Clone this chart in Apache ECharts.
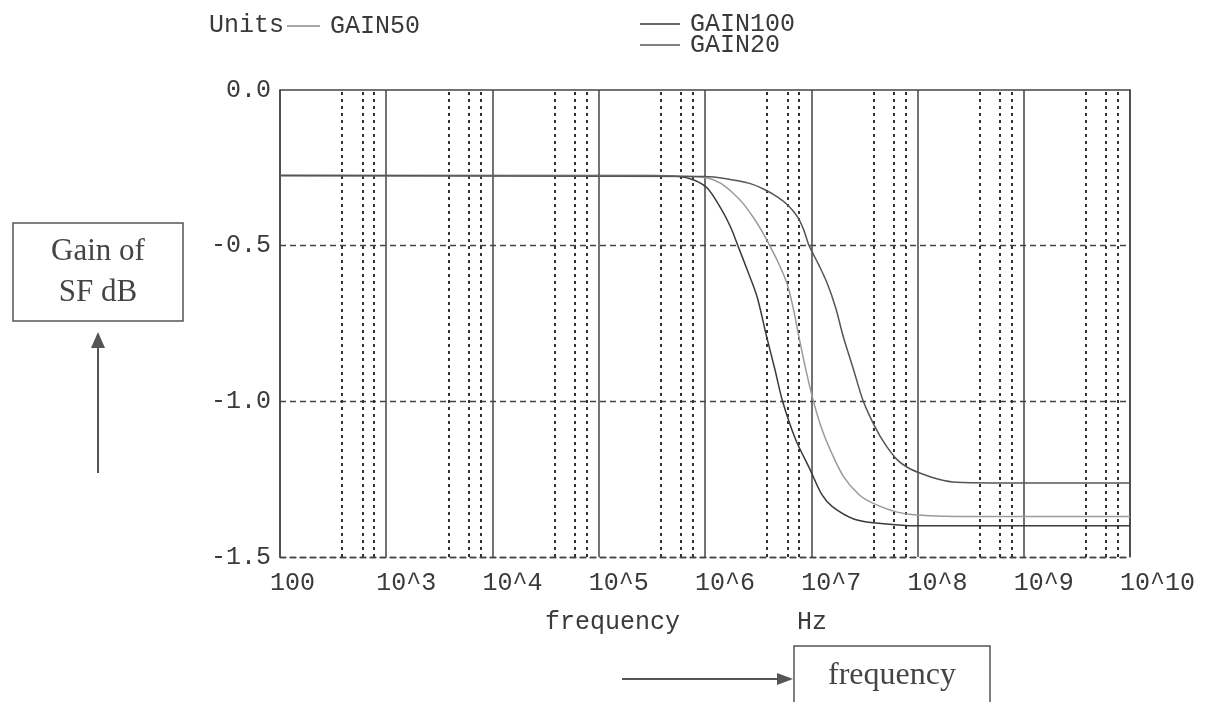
<!DOCTYPE html>
<html><head><meta charset="utf-8">
<script src="https://cdn.jsdelivr.net/npm/echarts@6/dist/echarts.min.js"></script>
<style>html,body{margin:0;padding:0;background:#fff}#c{width:1217px;height:702px}</style>
</head><body><div id="c"></div>
<script>
// ---- data (frequency in Hz, gain in dB) ----
const decadeLines = [1e2, 1e3, 1e4, 1e5, 1e6, 1e7, 1e8, 1e9];
const minorMultipliers = [3.85, 5.95, 7.7];

const gain100Freq = [1e2, 3.16e5, 5.75e5, 7.94e5, 1.05e6, 1.41e6, 1.74e6, 2.04e6, 2.51e6, 3.09e6, 3.8e6, 4.57e6, 5.37e6, 7.08e6, 9.77e6, 1.26e7, 1.58e7, 2.51e7, 3.8e7, 1e8, 1e10];
const gain100Val  = [-0.275, -0.275, -0.278, -0.29, -0.315, -0.38, -0.44, -0.5, -0.58, -0.664, -0.792, -0.9, -1.0, -1.12, -1.22, -1.3, -1.338, -1.378, -1.39, -1.40, -1.40];

const gain50Freq = [1e2, 6.3e5, 1.05e6, 1.41e6, 1.82e6, 2.29e6, 2.82e6, 3.39e6, 4.07e6, 4.9e6, 5.89e6, 6.76e6, 7.76e6, 8.91e6, 1.05e7, 1.26e7, 1.51e7, 2e7, 2.82e7, 3.8e7, 6.31e7, 1e8, 3.16e8, 1e10];
const gain50Val  = [-0.275, -0.277, -0.283, -0.30, -0.33, -0.365, -0.407, -0.45, -0.5, -0.555, -0.62, -0.7, -0.803, -0.9, -1.0, -1.09, -1.156, -1.24, -1.3, -1.327, -1.355, -1.365, -1.37, -1.37];

const gain20Freq = [1e2, 1e6, 1.58e6, 2.63e6, 3.55e6, 4.79e6, 6.03e6, 7.41e6, 8.51e6, 9.55e6, 1.17e7, 1.41e7, 1.7e7, 2e7, 2.51e7, 3.09e7, 3.98e7, 5.01e7, 6.46e7, 8.32e7, 1.05e8, 1.58e8, 2.34e8, 5.01e8, 1e10];
const gain20Val  = [-0.275, -0.278, -0.285, -0.30, -0.318, -0.343, -0.37, -0.407, -0.45, -0.5, -0.56, -0.62, -0.7, -0.792, -0.9, -1.0, -1.082, -1.14, -1.188, -1.215, -1.23, -1.25, -1.26, -1.262, -1.262];

const MONO = '"Liberation Mono", "DejaVu Sans Mono", monospace';
const SERIF = '"Liberation Serif", "DejaVu Serif", serif';
const TXT = '#3a3a3a';

function zip(xs, ys) { return xs.map((x, i) => [x, ys[i]]); }
function xLabel(v) {
  const e = Math.round(Math.log10(v));
  return e === 2 ? '100' : '10^' + e;
}
const minorLines = [];
decadeLines.forEach(d => minorMultipliers.forEach(m => minorLines.push({ xAxis: d * m })));

const chart = echarts.init(document.getElementById('c'));
const lineBase = { type: 'line', symbol: 'none', showSymbol: false, smooth: 0.3, z: 3 };
const legendText = { fontFamily: MONO, fontSize: 25, color: TXT };
chart.setOption({
  animation: false,
  backgroundColor: '#ffffff',
  grid: { left: 280, right: 87, top: 90, bottom: 145, containLabel: false, outerBoundsMode: 'none' },
  xAxis: [{
    type: 'log', logBase: 10, min: 100, max: 1e10, interval: 1,
    axisLine: { show: true, onZero: false, lineStyle: { color: '#444', width: 1.3, type: [6, 4] } },
    axisTick: { show: false },
    axisLabel: { formatter: xLabel, fontFamily: MONO, fontSize: 25, color: TXT, align: 'left',
      padding: [0, 0, 0, -10], margin: 14, showMinLabel: true, showMaxLabel: true, interval: 0, hideOverlap: false },
    splitLine: { show: true, lineStyle: { color: '#444', width: 1.5, type: 'solid' } },
    minorSplitLine: { show: false }
  }, {
    type: 'log', logBase: 10, min: 100, max: 1e10, interval: 1, position: 'top',
    axisLine: { show: true, onZero: false, lineStyle: { color: '#444', width: 1.5 } },
    axisTick: { show: false }, axisLabel: { show: false }, splitLine: { show: false }
  }],
  yAxis: [{
    type: 'value', min: -1.5, max: 0, interval: 0.5,
    name: 'Units', nameLocation: 'end', nameGap: 52,
    nameTextStyle: { fontFamily: MONO, fontSize: 25, color: TXT, align: 'right', padding: [0, -4, 0, 0] },
    axisLine: { show: true, onZero: false, lineStyle: { color: '#444', width: 1.5 } },
    axisTick: { show: false },
    axisLabel: { formatter: v => v.toFixed(1), fontFamily: MONO, fontSize: 25, color: TXT, margin: 9 },
    splitLine: { show: true, showMaxLine: false, lineStyle: { color: '#444', width: 1.3, type: [6, 4] } }
  }, {
    type: 'value', min: -1.5, max: 0, interval: 0.5, position: 'right',
    axisLine: { show: true, onZero: false, lineStyle: { color: '#444', width: 1.5 } },
    axisTick: { show: false }, axisLabel: { show: false }, splitLine: { show: false }
  }],
  legend: [
    { data: ['GAIN50'], left: 287, top: 13.5, padding: 0, icon: 'rect', itemWidth: 33, itemHeight: 1.5,
      textStyle: Object.assign({ padding: [0, 0, 0, 5] }, legendText) },
    { data: ['GAIN100'], left: 640, top: 11.5, padding: 0, icon: 'rect', itemWidth: 40, itemHeight: 1.5,
      textStyle: Object.assign({ padding: [0, 0, 0, 5] }, legendText) },
    { data: ['GAIN20'], left: 640, top: 32.5, padding: 0, icon: 'rect', itemWidth: 40, itemHeight: 1.5,
      textStyle: Object.assign({ padding: [0, 0, 0, 5] }, legendText) }
  ],
  series: [
    { name: 'grid-minor', type: 'line', data: [], silent: true,
      markLine: { silent: true, symbol: ['none', 'none'], label: { show: false }, z: 1,
        lineStyle: { color: '#333', width: 2, type: [3, 4] }, data: minorLines } },
    Object.assign({ name: 'GAIN100', data: zip(gain100Freq, gain100Val), lineStyle: { color: '#3a3a3a', width: 1.5 }, itemStyle: { color: '#3a3a3a' } }, lineBase),
    Object.assign({ name: 'GAIN50', data: zip(gain50Freq, gain50Val), lineStyle: { color: '#9a9a9a', width: 1.5 }, itemStyle: { color: '#8a8a8a' } }, lineBase),
    Object.assign({ name: 'GAIN20', data: zip(gain20Freq, gain20Val), lineStyle: { color: '#555555', width: 1.5 }, itemStyle: { color: '#555555' } }, lineBase)
  ],
  graphic: [
    { type: 'rect', shape: { x: 13, y: 223, width: 170, height: 98 }, style: { fill: 'none', stroke: '#555', lineWidth: 1.5 } },
    { type: 'text', x: 98, y: 272, style: { text: 'Gain of\nSF dB', font: '31px ' + SERIF, fill: '#444', align: 'center', verticalAlign: 'middle', lineHeight: 41 } },
    { type: 'line', shape: { x1: 98, y1: 473, x2: 98, y2: 345 }, style: { stroke: '#555', lineWidth: 2 } },
    { type: 'polygon', shape: { points: [[91, 348], [105, 348], [98, 332]] }, style: { fill: '#555' } },
    { type: 'text', x: 545, y: 622, style: { text: 'frequency', font: '25px ' + MONO, fill: TXT, verticalAlign: 'middle' } },
    { type: 'text', x: 797, y: 622, style: { text: 'Hz', font: '25px ' + MONO, fill: TXT, verticalAlign: 'middle' } },
    { type: 'line', shape: { x1: 622, y1: 679, x2: 780, y2: 679 }, style: { stroke: '#555', lineWidth: 2 } },
    { type: 'polygon', shape: { points: [[777, 673], [777, 685], [793, 679]] }, style: { fill: '#555' } },
    { type: 'rect', shape: { x: 794, y: 646, width: 196, height: 70 }, style: { fill: 'none', stroke: '#555', lineWidth: 1.5 } },
    { type: 'text', x: 892, y: 676, style: { text: 'frequency', font: '32px ' + SERIF, fill: '#444', align: 'center', verticalAlign: 'middle' } }
  ]
});
</script>
</body></html>
